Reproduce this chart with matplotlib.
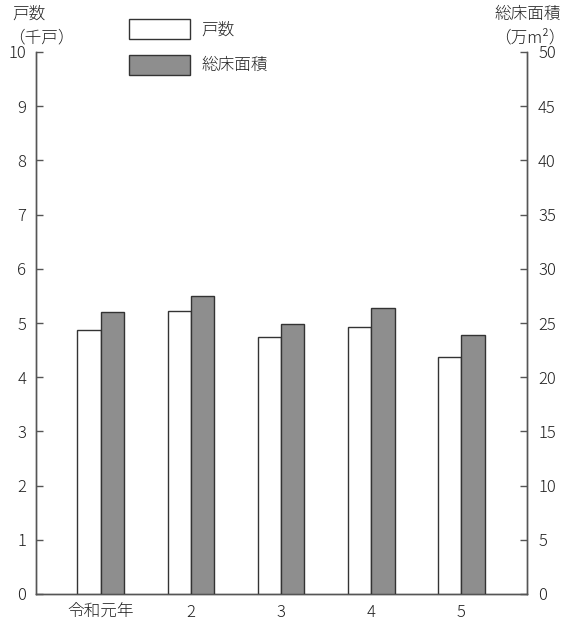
import numpy as np
import matplotlib.pyplot as plt
from matplotlib.patches import Patch

plt.rcParams['font.family'] = ['Noto Sans CJK JP', 'DejaVu Sans']
plt.rcParams['font.weight'] = 'light'

# data
years = ['令和元年', '2', '3', '4', '5']
households = [4.87, 5.23, 4.74, 4.92, 4.37]      # 戸数 (千戸)
floor_area = [26.0, 27.5, 24.9, 26.4, 23.9]      # 総床面積 (万m2)

W, H = 567, 626
fig = plt.figure(figsize=(W / 100, H / 100), dpi=100)
ax = fig.add_axes([36 / W, 1 - 594 / H, (527 - 36) / W, (594 - 52) / H])
ax2 = ax.twinx()

x = np.arange(len(years))
bw = 0.26
edge = '#333333'
gray = '#8e8e8e'

ax.bar(x - bw / 2, households, bw, color='white', edgecolor=edge, linewidth=1.0, zorder=3)
ax2.bar(x + bw / 2, floor_area, bw, color=gray, edgecolor=edge, linewidth=1.0, zorder=3)

ax.set_xlim(-0.72, 4.73)
ax.set_ylim(0, 10)
ax2.set_ylim(0, 50)
ax.set_yticks(np.arange(0, 11, 1))
ax2.set_yticks(np.arange(0, 51, 5))
ax.set_xticks(x)
ax.set_xticklabels(years)

fs = 12
txt_c = '#222222'
spine_c = '#555555'
for a in (ax, ax2):
    for s in a.spines.values():
        s.set_color(spine_c)
        s.set_linewidth(1.0)
    a.spines['top'].set_visible(False)
ax.tick_params(axis='y', direction='in', length=5, width=1.0, color=spine_c, pad=7,
               labelsize=fs, labelcolor=txt_c)
ax2.tick_params(axis='y', direction='in', length=5, width=1.0, color=spine_c, pad=8,
                labelsize=fs, labelcolor=txt_c)
ax.tick_params(axis='x', length=0, pad=7, labelsize=fs, labelcolor=txt_c)

# axis titles
fig.text(12 / W, 1 - 14 / H, '戸数', fontsize=fs, va='center', ha='left', color=txt_c)
fig.text(8 / W, 1 - 38 / H, '（千戸）', fontsize=fs, va='center', ha='left', color=txt_c)
fig.text(561 / W, 1 - 14 / H, '総床面積', fontsize=fs, va='center', ha='right', color=txt_c)
fig.text(566 / W, 1 - 38 / H, '（万m²）', fontsize=fs, va='center', ha='right', color=txt_c)

handles = [Patch(facecolor='white', edgecolor=edge, linewidth=1.0, label='戸数'),
           Patch(facecolor=gray, edgecolor=edge, linewidth=1.0, label='総床面積')]
fig.legend(handles=handles, loc='upper left', bbox_to_anchor=(129 / W, 1 - 19 / H),
           frameon=False, fontsize=fs, handlelength=3.64, handleheight=1.47,
           handletextpad=0.7, labelspacing=0.95, borderpad=0, borderaxespad=0,
           labelcolor=txt_c)

fig.savefig('out.png', dpi=100)
